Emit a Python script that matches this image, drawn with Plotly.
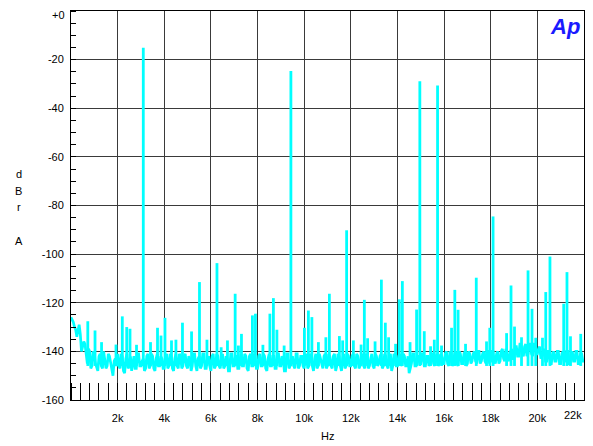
import plotly.graph_objects as go

# ---------------- data ----------------
# noise floor readings (dBr A): one set on the 100 Hz grid (0 Hz ... 22 kHz)
noise_step_hz = 100
noise_dbr = [
    -126, -128, -131, -131, -133, -138, -137, -145, -140, -146, -141, -147, -142, -146, -140, -147, -141, -145, -150, -143,
    -141, -147, -142, -149, -141, -146, -148, -142, -147, -141, -146, -143, -147, -141, -146, -142, -148, -141, -146, -143,
    -147, -141, -146, -142, -148, -141, -147, -142, -146, -141, -147, -143, -146, -141, -148, -142, -146, -141, -147, -142,
    -148, -141, -146, -142, -147, -141, -146, -143, -148, -141, -146, -142, -147, -141, -146, -142, -148, -141, -146, -143,
    -147, -141, -146, -142, -148, -141, -146, -142, -147, -141, -146, -143, -148, -141, -146, -142, -147, -141, -146, -142,
    -147, -141, -146, -142, -148, -141, -146, -143, -147, -141, -146, -142, -147, -141, -146, -142, -148, -141, -146, -142,
    -146, -141, -147, -142, -146, -141, -147, -142, -146, -141, -147, -142, -145, -141, -146, -142, -147, -141, -146, -142,
    -146, -141, -145, -142, -146, -149, -145, -141, -146, -142, -145, -141, -146, -142, -145, -141, -146, -141, -145, -142,
    -145, -140, -146, -141, -145, -140, -146, -141, -145, -140, -145, -141, -144, -140, -145, -140, -144, -140, -145, -140,
    -144, -140, -145, -140, -144, -139, -144, -140, -143, -139, -143, -138, -142, -137, -142, -137, -141, -137, -142, -137,
    -141, -138, -142, -139, -144, -140, -145, -140, -144, -140, -145, -140, -144, -140, -145, -140, -144, -140, -145, -141,
    -144,
]
# and one set half-way between (50 Hz ... 21.95 kHz)
noise_mid_dbr = [
    -127, -130, -134, -129, -140, -136, -142, -139, -147, -140, -145, -148, -141, -147, -143, -146, -142, -148, -144, -146,
    -146, -141, -148, -143, -147, -142, -145, -147, -141, -146, -144, -148, -142, -147, -141, -147, -143, -146, -142, -147,
    -142, -147, -141, -147, -143, -146, -141, -147, -142, -146, -142, -148, -141, -146, -143, -147, -141, -147, -143, -146,
    -142, -147, -141, -146, -143, -147, -142, -148, -141, -146, -142, -147, -143, -146, -141, -147, -142, -146, -141, -147,
    -142, -146, -141, -147, -143, -146, -142, -147, -141, -146, -142, -148, -141, -147, -143, -146, -141, -147, -142, -146,
    -142, -147, -141, -146, -143, -147, -141, -146, -142, -147, -141, -146, -142, -148, -141, -146, -143, -147, -141, -146,
    -142, -146, -141, -147, -142, -146, -141, -147, -143, -146, -141, -146, -142, -147, -141, -146, -142, -148, -141, -146,
    -142, -146, -141, -146, -142, -147, -141, -146, -142, -145, -141, -146, -142, -146, -141, -145, -142, -146, -141, -145,
    -141, -145, -140, -146, -141, -145, -140, -145, -141, -146, -140, -145, -141, -144, -140, -145, -141, -144, -140, -145,
    -140, -144, -141, -145, -140, -143, -139, -144, -140, -143, -138, -142, -137, -141, -138, -142, -137, -141, -137, -141,
    -139, -143, -140, -144, -140, -145, -141, -144, -140, -145, -141, -144, -140, -145, -141, -144, -140, -145, -141, -144,
]

# spectral lines (Hz, dBr A)
peak_freq_hz = [
    3100, 9430, 14960, 15720, 11820, 18100, 20540, 6260, 21270, 19600,
    17380, 13310, 14210, 5510, 18870, 16460, 20360, 7040, 11080, 8680,
    14080, 12580, 21130, 19770, 14820, 16600, 10180, 7910, 8530, 7780,
    2200, 10330, 4030, 720, 4780, 13480, 19020, 2390, 10010, 3710,
    16320, 17960, 2530, 8830, 1030, 15150, 5170, 7310, 21860, 18680,
    3860, 11510, 21420, 10930, 13620, 19320, 12720, 19930, 20220, 5830,
    4500, 15580, 4310, 6710, 11650, 12110, 13040, 17820, 1310, 3410,
    10610, 14540, 16920, 13920, 2810, 8230, 1930, 12440, 7180, 9140,
    15890, 15420, 6440,
]
peak_dbr = [
    -15.1, -24.7, -28.9, -30.6, -90.2, -84.5, -101.0, -103.7, -107.4, -106.7,
    -109.7, -110.5, -111.1, -111.5, -112.9, -114.7, -115.6, -116.3, -116.3, -118.1,
    -118.6, -118.8, -120.4, -122.5, -122.8, -122.9, -123.2, -124.5, -124.5, -125.2,
    -125.6, -125.9, -126.2, -127.6, -128.2, -128.2, -129.8, -130.0, -130.3, -130.3,
    -130.3, -130.3, -130.7, -131.1, -131.4, -131.7, -131.8, -132.8, -132.8, -132.5,
    -133.5, -133.7, -133.8, -134.2, -134.2, -134.2, -134.6, -134.4, -134.4, -135.2,
    -135.2, -135.2, -135.5, -135.5, -135.5, -135.5, -135.9, -135.9, -136.2, -136.2,
    -136.2, -136.2, -136.9, -136.9, -137.3, -137.3, -137.2, -137.2, -137.6, -137.6,
    -137.6, -137.9, -138.3,
]
peak_base_dbr = -146

x_tick_hz = [2000, 4000, 6000, 8000, 10000, 12000, 14000, 16000, 18000, 20000]
x_tick_text = ["2k", "4k", "6k", "8k", "10k", "12k", "14k", "16k", "18k", "20k"]
x_last_tick_hz = 22000
x_last_tick_text = "22k"
y_tick_db = [-20, -40, -60, -80, -100, -120, -140, -160]
y_tick_text = ["-20", "-40", "-60", "-80", "-100", "-120", "-140", "-160"]
y_top_tick_text = "+0"
y_label_letters = ["d", "B", "r", "A"]

# ---------------- build ----------------
pts = [(i * noise_step_hz, v) for i, v in enumerate(noise_dbr)]
pts += [(i * noise_step_hz + noise_step_hz // 2, v) for i, v in enumerate(noise_mid_dbr)]
pts.sort()
noise_x = [p[0] for p in pts]
noise_y = [p[1] for p in pts]

seg_x, seg_y = [], []
for f, lvl in zip(peak_freq_hz, peak_dbr):
    seg_x += [f, f, None]
    seg_y += [peak_base_dbr, lvl, None]

CYAN = "#00FFFF"
FONT = "Liberation Sans, Arial, sans-serif"

fig = go.Figure()
fig.add_trace(go.Scatter(x=noise_x, y=noise_y, mode="lines",
                         line=dict(color=CYAN, width=2.7), hoverinfo="skip"))
fig.add_trace(go.Scatter(x=seg_x, y=seg_y, mode="lines",
                         line=dict(color=CYAN, width=2.8), hoverinfo="skip"))

# the page body adds an 8 px offset; size the figure so the plot lands where the reference has it
OFF = 8
W, H = 593 - OFF, 446 - OFF
PL, PR, PT, PB = 71, 584, 11, 400          # plot frame in window pixels
ML, MR, MT, MB = PL - OFF, (593 - PR), PT - OFF, (446 - PB)

fig.update_layout(
    width=W, height=H,
    margin=dict(l=ML, r=MR, t=MT, b=MB, pad=0),
    paper_bgcolor="white", plot_bgcolor="white",
    showlegend=False,
    font=dict(family=FONT, size=11, color="black"),
)
fig.update_xaxes(
    range=[0, 22000], tickvals=x_tick_hz, ticktext=x_tick_text,
    showgrid=True, gridcolor="#3a3a3a", gridwidth=1,
    showline=True, linecolor="black", linewidth=1, mirror=True,
    ticks="", ticklabelstandoff=8, zeroline=False,
    minor=dict(dtick=400, tick0=0, ticks="inside", ticklen=17,
               tickcolor="black", tickwidth=1, showgrid=False),
)
fig.update_yaxes(
    range=[-160, 0], tickvals=y_tick_db, ticktext=y_tick_text,
    showgrid=True, gridcolor="#3a3a3a", gridwidth=1,
    showline=True, linecolor="black", linewidth=1, mirror=True,
    ticks="", ticklabelstandoff=4, zeroline=False,
    minor=dict(dtick=5, tick0=0, ticks="inside", ticklen=5,
               tickcolor="black", tickwidth=1, showgrid=False),
)

def px_to_paper_x(px):
    return (px - PL) / (PR - PL)

def px_to_paper_y(py):
    return (PB - py) / (PB - PT)

# top y tick label (placed slightly below the frame top so it stays on the page)
fig.add_annotation(x=px_to_paper_x(67), xref="paper", y=px_to_paper_y(15), yref="paper",
                   text=y_top_tick_text, showarrow=False, xanchor="right",
                   yanchor="middle", font=dict(size=11))

# last x tick label, kept inside the frame
fig.add_annotation(x=x_last_tick_hz, xref="x", y=px_to_paper_y(415), yref="paper",
                   text=x_last_tick_text, showarrow=False, xanchor="right",
                   yanchor="middle", font=dict(size=11))

# stacked y-axis title letters
for letter, py in zip(y_label_letters, [174, 191, 207, 241]):
    fig.add_annotation(x=px_to_paper_x(18.5), xref="paper", y=px_to_paper_y(py), yref="paper",
                       text=letter, showarrow=False, xanchor="center", yanchor="middle",
                       font=dict(size=11))

# x-axis title
fig.add_annotation(x=px_to_paper_x(327), xref="paper", y=px_to_paper_y(436), yref="paper",
                   text="Hz", showarrow=False, xanchor="center", yanchor="middle",
                   font=dict(size=11))

# logo
fig.add_annotation(x=px_to_paper_x(582), xref="paper", y=px_to_paper_y(27), yref="paper",
                   text="<b><i>Ap</i></b>", showarrow=False, xanchor="right", yanchor="middle",
                   font=dict(family="Liberation Sans, Arial, sans-serif", size=22, color="#1a1aff"))

fig.write_html("out.html")
